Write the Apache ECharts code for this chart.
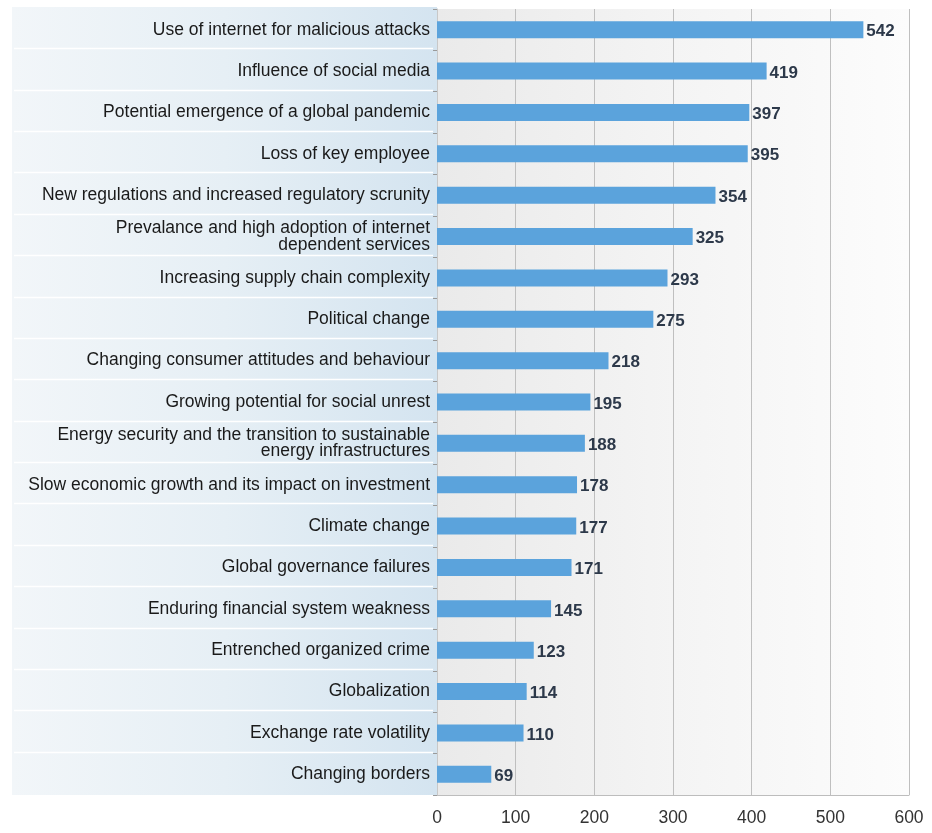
<!DOCTYPE html>
<html>
<head>
<meta charset="utf-8">
<script src="https://cdn.jsdelivr.net/npm/echarts@6/dist/echarts.min.js"></script>
<style>
html,body{margin:0;padding:0;background:#fff;}
#chart{width:932px;height:833px;}
</style>
</head>
<body>
<div id="chart"></div>
<script>
var categories = [
  "Use of internet for malicious attacks",
  "Influence of social media",
  "Potential emergence of a global pandemic",
  "Loss of key employee",
  "New regulations and increased regulatory scrunity",
  "Prevalance and high adoption of internet\ndependent services",
  "Increasing supply chain complexity",
  "Political change",
  "Changing consumer attitudes and behaviour",
  "Growing potential for social unrest",
  "Energy security and the transition to sustainable\nenergy infrastructures",
  "Slow economic growth and its impact on investment",
  "Climate change",
  "Global governance failures",
  "Enduring financial system weakness",
  "Entrenched organized crime",
  "Globalization",
  "Exchange rate volatility",
  "Changing borders"
];
var values = [542, 419, 397, 395, 354, 325, 293, 275, 218, 195, 188, 178, 177, 171, 145, 123, 114, 110, 69];
var xTicks = [0, 100, 200, 300, 400, 500, 600];

var FONT = '"Liberation Sans", Arial, Helvetica, sans-serif';
var chart = echarts.init(document.getElementById('chart'), null, {renderer: 'canvas'});

var gridLeft = 437, gridRight = 23, gridTop = 9, gridBottom = 38;

var option = {
  backgroundColor: '#ffffff',
  animation: false,
  grid: {
    left: gridLeft, right: gridRight, top: gridTop, bottom: gridBottom,
    containLabel: false,
    show: true,
    borderWidth: 0,
    backgroundColor: new echarts.graphic.LinearGradient(0, 0, 1, 0, [
      {offset: 0, color: '#eaeaea'},
      {offset: 0.5, color: '#f4f4f4'},
      {offset: 1, color: '#fcfcfc'}
    ])
  },
  xAxis: {
    type: 'value',
    min: xTicks[0],
    max: xTicks[xTicks.length - 1],
    interval: xTicks[1] - xTicks[0],
    axisLine: {show: true, lineStyle: {color: '#bdbdbd', width: 1}},
    axisTick: {show: false},
    axisLabel: {color: '#333', fontSize: 17.5, fontFamily: FONT, margin: 14},
    splitLine: {show: true, lineStyle: {color: '#bfbfbf', width: 1}}
  },
  yAxis: {
    type: 'category',
    inverse: true,
    data: categories,
    axisLine: {show: true, lineStyle: {color: '#c8c8c8', width: 1}},
    axisTick: {show: true, length: 4, lineStyle: {color: '#9a9a9a'}},
    axisLabel: {
      color: '#1a1a1a', fontSize: 17.5, fontFamily: FONT, margin: 7,
      lineHeight: 16.5, align: 'right', padding: [4, 0, 0, 0]
    },
    splitLine: {show: false}
  },
  series: [{
    type: 'bar',
    data: values,
    barWidth: 17,
    itemStyle: {color: '#5ba3dc'},
    label: {
      show: true, position: 'right', distance: 3,
      color: '#2d394a', fontWeight: 'bold', fontSize: 17, fontFamily: FONT,
      offset: [0, 2]
    }
  }]
};
chart.setOption(option);

// decorative label-area background with white separators between categories
var y0 = chart.convertToPixel({yAxisIndex: 0}, 0);
var y1 = chart.convertToPixel({yAxisIndex: 0}, 1);
var band = y1 - y0;
var elements = [{
  type: 'rect', z: -10, silent: true,
  shape: {x: 12, y: gridTop - 2, width: gridLeft - 12, height: 833 - gridBottom - gridTop + 2},
  style: {fill: new echarts.graphic.LinearGradient(0, 0, 1, 0, [
    {offset: 0, color: '#f2f6f9'},
    {offset: 0.5, color: '#e6eff5'},
    {offset: 1, color: '#d4e4f0'}
  ])}
}];
for (var i = 1; i < categories.length; i++) {
  var yy = Math.round(chart.convertToPixel({yAxisIndex: 0}, i) - band / 2) - 1.5;
  elements.push({
    type: 'line', z: -9, silent: true,
    shape: {x1: 14, y1: yy, x2: gridLeft - 4, y2: yy},
    style: {stroke: '#ffffff', lineWidth: 1.5}
  });
}
chart.setOption({graphic: {elements: elements}});
</script>
</body>
</html>
